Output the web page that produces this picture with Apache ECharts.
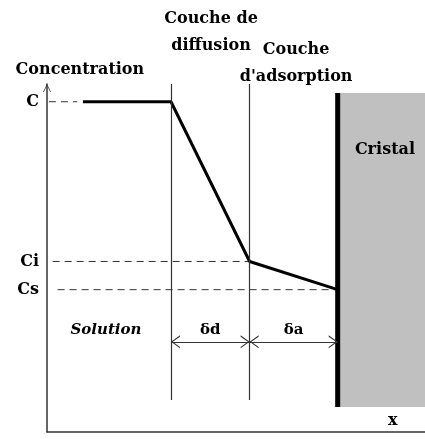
<!DOCTYPE html>
<html>
<head>
<meta charset="utf-8">
<script src="https://cdn.jsdelivr.net/npm/echarts@6/dist/echarts.min.js"></script>
<style>
html, body { margin: 0; padding: 0; background: #fff; }
#chart { width: 425px; height: 439px; }
</style>
</head>
<body>
<div id="chart"></div>
<script>
// concentration levels on the y axis (0..10 scale)
const levelNames = ['C', 'Ci', 'Cs'];
const levelValues = [9.49, 4.90, 4.09];
// where each dashed guide starts near the axis
const guideStart = [0.05, 0.15, 0.28];

// x positions: profile start, diffusion layer, adsorption layer, crystal surface
const layerX = [0.95, 3.28, 5.36, 7.69];
const profileY = [9.49, 9.49, 4.90, 4.09];

// layer boundary lines (bottom, top)
const boundaryY = [0.92, 10];
// arrows for layer thickness
const arrowY = 2.59;
const arrowNames = ['δd', 'δa'];

// crystal block
const crystalX = [7.69, 10];
const crystalY = [0.72, 9.74];

// free text labels [x, y, text]
const notes = [
  [4.34, 11.49, 'Couche de\ndiffusion'],
  [6.59, 10.59, 'Couche\nd\'adsorption'],
  [0.87, 10.40, 'Concentration'],
  [8.94, 8.10, 'Cristal'],
  [9.15, 0.32, 'x']
];
const solutionNote = [1.56, 2.93, 'Solution'];

const FONT = 'DejaVu Serif';
const ink = '#333';
// open arrow head, tip in the middle of the symbol box
const chevron = 'path://M5,0 L5,0 Z M5,10 L10,20 L9,20 L5,12 L1,20 L0,20 Z';

const chart = echarts.init(document.getElementById('chart'));

const guides = levelValues.map((v, i) => ({
  type: 'line',
  silent: true,
  symbol: 'none',
  data: [[guideStart[i], v], [i === 0 ? 0.8 : layerX[i + 1], v]],
  lineStyle: { color: ink, width: 1, type: [7, 5] },
  z: 2
}));

const textStyle = {
  fontFamily: FONT, fontWeight: 'bold', color: '#000',
  textBorderWidth: 0, textShadowBlur: 0
};

const option = {
  animation: false,
  grid: { left: 47, right: 0, top: 84, bottom: 7 },
  xAxis: {
    type: 'value', min: 0, max: 10,
    axisLine: { lineStyle: { color: ink, width: 1.5 } },
    axisTick: { show: false },
    axisLabel: { show: false },
    splitLine: { show: false }
  },
  yAxis: {
    type: 'value', min: 0, max: 10,
    axisLine: {
      show: true,
      symbol: ['none', chevron],
      symbolSize: [11, 16],
      lineStyle: { color: ink, width: 1.5 }
    },
    axisTick: { show: false },
    splitLine: { show: false },
    axisLabel: {
      customValues: levelValues,
      formatter: v => levelNames[levelValues.indexOf(v)] || '',
      ...textStyle, fontSize: 16,
      margin: 8
    }
  },
  series: [
    ...guides,
    {
      // crystal block and its surface
      type: 'line',
      silent: true,
      symbol: 'none',
      data: [[crystalX[0], crystalY[0]], [crystalX[0], crystalY[1]]],
      lineStyle: { color: '#000', width: 5 },
      markArea: {
        silent: true,
        itemStyle: { color: '#c0c0c0' },
        data: [[{ coord: [crystalX[0], crystalY[0]] }, { coord: [crystalX[1], crystalY[1]] }]]
      },
      z: 3
    },
    {
      // layer boundaries and thickness arrows
      type: 'line',
      silent: true,
      data: [],
      markLine: {
        silent: true,
        animation: false,
        symbol: ['none', 'none'],
        lineStyle: { color: ink, width: 1.2, type: 'solid' },
        label: { show: false },
        data: [
          [{ coord: [layerX[1], boundaryY[0]] }, { coord: [layerX[1], boundaryY[1]] }],
          [{ coord: [layerX[2], boundaryY[0]] }, { coord: [layerX[2], boundaryY[1]] }],
          ...arrowNames.map((name, i) => [
            {
              coord: [layerX[i + 1], arrowY],
              symbol: chevron,
              symbolSize: [13, 18],
              label: {
                show: true, position: 'middle', formatter: name, distance: 4,
                ...textStyle, fontSize: 15
              }
            },
            { coord: [layerX[i + 2], arrowY], symbol: chevron, symbolSize: [13, 18] }
          ])
        ]
      },
      z: 2
    },
    {
      // concentration profile
      type: 'line',
      silent: true,
      symbol: 'none',
      data: layerX.map((x, i) => [x, profileY[i]]),
      lineStyle: { color: '#000', width: 3 },
      z: 4
    },
    {
      type: 'scatter',
      silent: true,
      symbolSize: 0,
      clip: false,
      itemStyle: { color: '#000', opacity: 1 },
      data: notes.map(n => ({ value: [n[0], n[1]], name: n[2] })),
      label: {
        show: true, position: 'inside', formatter: p => p.name,
        ...textStyle, fontSize: 16,
        lineHeight: 27, align: 'center'
      },
      z: 5
    },
    {
      type: 'scatter',
      silent: true,
      symbolSize: 0,
      itemStyle: { color: '#000', opacity: 1 },
      data: [{ value: [solutionNote[0], solutionNote[1]], name: solutionNote[2] }],
      label: {
        show: true, position: 'inside', formatter: p => p.name,
        ...textStyle, fontStyle: 'italic', fontSize: 15
      },
      z: 5
    }
  ]
};

chart.setOption(option);
</script>
</body>
</html>
